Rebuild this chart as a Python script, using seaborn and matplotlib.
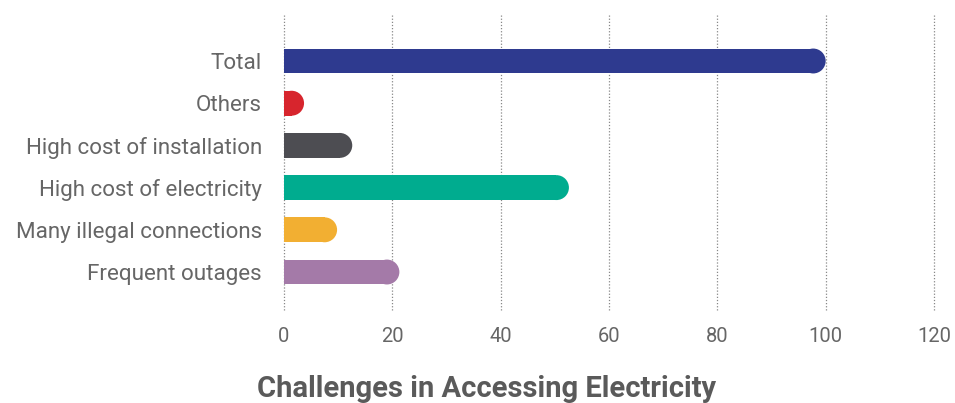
import matplotlib
matplotlib.use("Agg")
import matplotlib.pyplot as plt
import seaborn as sns
import pandas as pd
from matplotlib.patches import Ellipse

categories = ["Total", "Others", "High cost of installation", "High cost of electricity",
              "Many illegal connections", "Frequent outages"]
values = [100, 3.7, 12.6, 52.6, 9.8, 21.3]
colors = ["#2E3A8F", "#D7252D", "#4D4D52", "#00AC8F", "#F2AF32", "#A47AA8"]
xticks = [0, 20, 40, 60, 80, 100, 120]
title = "Challenges in Accessing Electricity"

sns.set_theme(style="white")
plt.rcParams['font.family'] = ['Roboto', 'DejaVu Sans']

W, H = 955, 403
fig = plt.figure(figsize=(W / 100, H / 100), dpi=100)
ax_l, ax_r, ax_t, ax_b = 284, 934, 15, 310
ax = fig.add_axes([ax_l / W, 1 - ax_b / H, (ax_r - ax_l) / W, (ax_b - ax_t) / H])

df = pd.DataFrame({"cat": categories, "val": values})
bh = 0.59
sns.barplot(data=df, x="val", y="cat", hue="cat", palette=colors, legend=False,
            width=bh, ax=ax, saturation=1, linewidth=0)

ax.set_xlim(0, 120)
ax.set_ylim(5.9, -1.09)

# rounded right ends
px_per_x = (ax_r - ax_l) / 120
px_per_y = (ax_b - ax_t) / (5.9 + 1.09)
r_px = bh * px_per_y / 2
r_data = r_px / px_per_x
for p in list(ax.patches):
    x0 = p.get_x()
    w = p.get_width()
    y0 = p.get_y()
    h = p.get_height()
    c = p.get_facecolor()
    p.set_width(w - r_data)
    ax.add_patch(Ellipse((x0 + w - r_data, y0 + h / 2), 2 * r_data, h,
                         facecolor=c, edgecolor='none', linewidth=0))

ax.set_xticks(xticks)
ax.set_xticklabels([str(t) for t in xticks])
ax.grid(axis='x', color='#888888', linestyle=(0, (1, 1.5)), linewidth=0.9)
ax.grid(axis='y', visible=False)
for gl in ax.get_xgridlines():
    gl.set_clip_on(False)
ax.set_axisbelow(True)
for s in ax.spines.values():
    s.set_visible(False)
ax.set_xlabel("")
ax.set_ylabel("")
ax.tick_params(axis='x', length=0, pad=12, labelsize=14.5, labelcolor='#666666')
ax.tick_params(axis='y', length=0, pad=16, labelsize=16.1, labelcolor='#666666')

fig.text(487 / W, 1 - 397 / H, title, ha='center', va='baseline', fontsize=21,
         fontweight='bold', color='#5a5a5a')

fig.savefig("out.png", dpi=100)
